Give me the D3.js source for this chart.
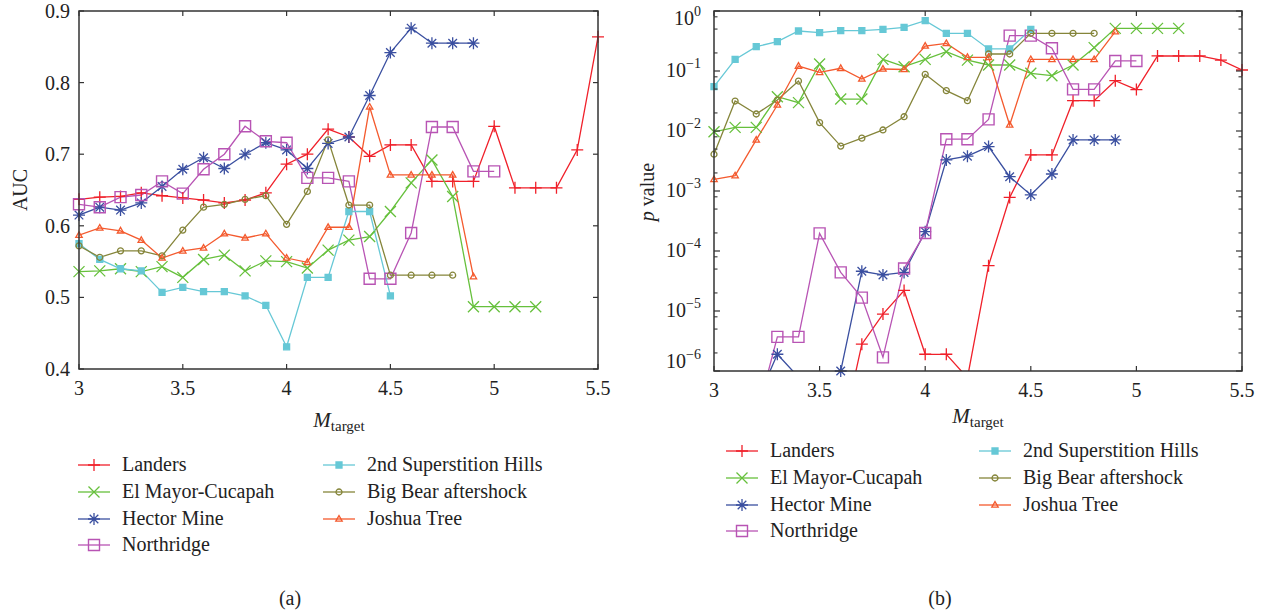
<!DOCTYPE html>
<html>
<head>
<meta charset="utf-8">
<script src="https://cdn.jsdelivr.net/npm/d3@7"></script>
<style>
  html, body { margin: 0; padding: 0; background: #fff; }
  svg { display: block; font-family: "Liberation Serif", "DejaVu Serif", serif; }
</style>
</head>
<body>
<svg id="fig" width="1269" height="614"></svg>
<script>
// Magnitude thresholds (x axis of both panels)
const magnitudes = [3.0, 3.1, 3.2, 3.3, 3.4, 3.5, 3.6, 3.7, 3.8, 3.9, 4.0, 4.1, 4.2,
                    4.3, 4.4, 4.5, 4.6, 4.7, 4.8, 4.9, 5.0, 5.1, 5.2, 5.3, 5.4, 5.5];

// Panel (a): AUC per earthquake, aligned with magnitudes (shorter lists stop earlier)
const landersAUC      = [0.637, 0.640, 0.641, 0.646, 0.642, 0.639, 0.636, 0.632, 0.636, 0.646, 0.686, 0.700, 0.735,
                         0.724, 0.697, 0.713, 0.713, 0.662, 0.662, 0.662, 0.739, 0.653, 0.653, 0.653, 0.706, 0.864];
const elMayorAUC      = [0.536, 0.537, 0.540, 0.536, 0.543, 0.528, 0.553, 0.559, 0.537, 0.551, 0.550, 0.541, 0.566,
                         0.580, 0.585, 0.620, 0.660, 0.692, 0.641, 0.487, 0.487, 0.487, 0.487];
const hectorAUC       = [0.615, 0.626, 0.622, 0.632, 0.655, 0.679, 0.695, 0.680, 0.700, 0.716, 0.706, 0.680, 0.715,
                         0.724, 0.782, 0.842, 0.876, 0.855, 0.855, 0.855];
const northridgeAUC   = [0.630, 0.626, 0.640, 0.643, 0.662, 0.645, 0.679, 0.700, 0.739, 0.718, 0.716, 0.667, 0.667,
                         0.662, 0.526, 0.526, 0.590, 0.738, 0.738, 0.676, 0.676];
const superstitionAUC = [0.575, 0.553, 0.540, 0.537, 0.507, 0.514, 0.508, 0.508, 0.502, 0.489, 0.431, 0.528, 0.528,
                         0.620, 0.620, 0.502];
const bigBearAUC      = [0.572, 0.556, 0.565, 0.565, 0.558, 0.594, 0.626, 0.630, 0.637, 0.642, 0.602, 0.648, 0.720,
                         0.629, 0.629, 0.531, 0.531, 0.531, 0.531];
const joshuaAUC       = [0.587, 0.597, 0.593, 0.580, 0.555, 0.565, 0.569, 0.589, 0.583, 0.589, 0.555, 0.549, 0.598,
                         0.598, 0.766, 0.671, 0.671, 0.671, 0.671, 0.529];

// Panel (b): p values (null = not computed; values under 1e-6 run off the bottom of the axis)
const landersP      = [null, null, null, null, null, null, 7e-8, 2.8e-6, 8.9e-6, 2.2e-5, 1.9e-6, 1.9e-6, 7.7e-7,
                       5.7e-5, 7.8e-4, 4.0e-3, 4.0e-3, 0.032, 0.032, 0.069, 0.049, 0.178, 0.178, 0.178, 0.152, 0.104];
const elMayorP      = [9.7e-3, 0.0115, 0.0115, 0.0373, 0.0297, 0.131, 0.0341, 0.0341, 0.156, 0.118, 0.156, 0.21, 0.152,
                       0.126, 0.126, 0.0915, 0.0836, 0.126, 0.245, 0.514, 0.514, 0.514, 0.514];
const hectorP       = [null, null, 3.0e-7, 1.9e-6, 7.9e-7, 4e-7, 1.0e-6, 4.6e-5, 4.0e-5, 4.4e-5, 2.1e-4, 3.3e-3, 3.8e-3,
                       5.5e-3, 1.73e-3, 8.6e-4, 1.92e-3, 7.1e-3, 7.1e-3, 7.1e-3];
const northridgeP   = [null, null, 1.7e-7, 3.7e-6, 3.7e-6, 1.97e-4, 4.4e-5, 1.67e-5, 1.69e-6, 5.1e-5, 2.0e-4, 7.3e-3, 7.3e-3,
                       0.0156, 0.388, 0.388, 0.239, 0.0494, 0.0494, 0.147, 0.147];
const superstitionP = [0.055, 0.156, 0.255, 0.308, 0.464, 0.435, 0.47, 0.47, 0.494, 0.535, 0.69, 0.425, 0.425,
                       0.233, 0.233, 0.494];
const bigBearP      = [4.1e-3, 0.0316, 0.0192, 0.0329, 0.068, 0.0138, 5.6e-3, 7.6e-3, 0.0104, 0.0173, 0.088, 0.047, 0.032,
                       0.192, 0.192, 0.425, 0.425, 0.425, 0.425];
const joshuaP       = [1.56e-3, 1.8e-3, 7.1e-3, 0.0271, 0.121, 0.095, 0.111, 0.0736, 0.108, 0.106, 0.261, 0.289, 0.169,
                       0.169, 0.0126, 0.156, 0.156, 0.156, 0.156, 0.453];

// Tick labels
const xTicks = [3, 3.5, 4, 4.5, 5, 5.5];
const aucTicks = [0.4, 0.5, 0.6, 0.7, 0.8, 0.9];
const pExponents = [0, -1, -2, -3, -4, -5, -6];

// Series styling
const series = [
  { name: "Landers",                auc: landersAUC,      p: landersP,      color: "#f0202a", marker: "plus" },
  { name: "El Mayor-Cucapah",       auc: elMayorAUC,      p: elMayorP,      color: "#66c03c", marker: "cross" },
  { name: "Hector Mine",            auc: hectorAUC,       p: hectorP,       color: "#3a4fa0", marker: "star" },
  { name: "Northridge",             auc: northridgeAUC,   p: northridgeP,   color: "#b854b4", marker: "square" },
  { name: "2nd Superstition Hills", auc: superstitionAUC, p: superstitionP, color: "#66c8d6", marker: "fsquare" },
  { name: "Big Bear aftershock",    auc: bigBearAUC,      p: bigBearP,      color: "#85853a", marker: "circle" },
  { name: "Joshua Tree",            auc: joshuaAUC,       p: joshuaP,       color: "#f45a2e", marker: "triangle" }
];

const markerPath = {
  plus:     `M-6,0H6M0,-6V6`,
  cross:    `M-5.5,-5.5L5.5,5.5M-5.5,5.5L5.5,-5.5`,
  star:     `M-6,0H6M0,-6V6M-4.3,-4.3L4.3,4.3M-4.3,4.3L4.3,-4.3`,
  square:   `M-5.5,-5.5H5.5V5.5H-5.5Z`,
  fsquare:  `M-3,-3H3V3H-3Z`,
  circle:   d3.symbol(d3.symbolCircle, 28)(),
  triangle: `M0,-3.4L3.2,2.2H-3.2Z`
};
function markerStyle(sel, s) {
  sel.attr("d", markerPath[s.marker])
     .attr("stroke", s.color)
     .attr("stroke-width", s.marker === "square" ? 1.4 : 1.3)
     .attr("fill", s.marker === "fsquare" ? s.color : "none");
}

const svg = d3.select("#fig");
const axisColor = "#333";

function panel(opts) {
  const { x, y, key, id } = opts;
  const [x0, x1] = x.range();
  const [y0, y1] = y.range(); // y0 bottom, y1 top
  const g = svg.append("g");

  g.append("clipPath").attr("id", id).append("rect")
    .attr("x", x0).attr("y", y1).attr("width", x1 - x0).attr("height", y0 - y1);

  // x ticks (bottom, mirrored at top), inward
  xTicks.forEach(t => {
    const px = x(t);
    g.append("line").attr("x1", px).attr("x2", px).attr("y1", y0).attr("y2", y0 - 5)
      .attr("stroke", axisColor).attr("stroke-width", 1.2);
    g.append("line").attr("x1", px).attr("x2", px).attr("y1", y1).attr("y2", y1 + 5)
      .attr("stroke", axisColor).attr("stroke-width", 1.2);
    g.append("text").attr("x", px).attr("y", y0 + 26).attr("text-anchor", "middle")
      .attr("font-size", 20).attr("fill", "#222").text(d3.format("~g")(t));
  });

  // series lines (clipped to the plot box) and markers
  const lines = g.append("g").attr("clip-path", `url(#${id})`);
  series.forEach(s => {
    const pts = s[key].map((v, i) => ({ m: magnitudes[i], v })).filter(d => d.v !== null);
    const line = d3.line().x(d => x(d.m)).y(d => y(d.v));
    lines.append("path").attr("d", line(pts)).attr("fill", "none")
      .attr("stroke", s.color).attr("stroke-width", 1.3);
  });
  series.forEach(s => {
    const [lo] = y.domain();
    const pts = s[key].map((v, i) => ({ m: magnitudes[i], v }))
      .filter(d => d.v !== null && d.v >= lo * 0.99);
    g.append("g").selectAll("path").data(pts).join("path")
      .attr("transform", d => `translate(${x(d.m)},${y(d.v)})`)
      .call(markerStyle, s);
  });

  // frame
  g.append("rect").attr("x", x0).attr("y", y1).attr("width", x1 - x0).attr("height", y0 - y1)
    .attr("fill", "none").attr("stroke", axisColor).attr("stroke-width", 1.5);
  return g;
}

// ---------- Panel (a): AUC ----------
const xA = d3.scaleLinear([3, 5.5], [79, 598]);
const yA = d3.scaleLinear([0.4, 0.9], [369, 11]);
const gA = panel({ x: xA, y: yA, key: "auc", id: "clipA" });
aucTicks.forEach(t => {
  const py = yA(t);
  gA.append("line").attr("x1", 79).attr("x2", 84).attr("y1", py).attr("y2", py)
    .attr("stroke", axisColor).attr("stroke-width", 1.2);
  gA.append("line").attr("x1", 598).attr("x2", 593).attr("y1", py).attr("y2", py)
    .attr("stroke", axisColor).attr("stroke-width", 1.2);
  gA.append("text").attr("x", 70).attr("y", py + 7).attr("text-anchor", "end")
    .attr("font-size", 20).attr("fill", "#222").text(d3.format(".1f")(t));
});
gA.append("text").attr("transform", "translate(27,190) rotate(-90)").attr("text-anchor", "middle")
  .attr("font-size", 20).attr("fill", "#222").text("AUC");
const mA = gA.append("text").attr("x", 339).attr("y", 427).attr("text-anchor", "middle")
  .attr("font-size", 21).attr("fill", "#222");
mA.append("tspan").attr("font-style", "italic").text("M");
mA.append("tspan").attr("font-size", 15).attr("dy", 4).text("target");

// ---------- Panel (b): p value ----------
const xB = d3.scaleLinear([3, 5.5], [714, 1242]);
const yB = d3.scaleLog([1e-6, 1], [371, 11]);
const gB = panel({ x: xB, y: yB, key: "p", id: "clipB" });
pExponents.forEach(e => {
  const py = yB(Math.pow(10, e));
  [[714, 720], [1242, 1236]].forEach(([a, b]) =>
    gB.append("line").attr("x1", a).attr("x2", b).attr("y1", py).attr("y2", py)
      .attr("stroke", axisColor).attr("stroke-width", 1.2));
  if (e < 0) {
    [2, 5, 8].forEach(k => {
      const my = yB(k * Math.pow(10, e));
      [[714, 717.5], [1242, 1238.5]].forEach(([a, b]) =>
        gB.append("line").attr("x1", a).attr("x2", b).attr("y1", my).attr("y2", my)
          .attr("stroke", axisColor).attr("stroke-width", 1.1));
    });
  }
  // end labels are nudged inward so they stay clear of the corners
  const nudge = e === 0 ? 8 : (e === -6 ? -9 : 0);
  const lab = gB.append("text").attr("x", 701).attr("y", py + 6 + nudge)
    .attr("text-anchor", "end").attr("font-size", 20).attr("fill", "#222");
  lab.append("tspan").text("10");
  lab.append("tspan").attr("font-size", 14).attr("dy", -9).text(e === 0 ? "0" : "\u2212" + (-e));
});
const pl = gB.append("text").attr("transform", "translate(654,192) rotate(-90)").attr("text-anchor", "middle")
  .attr("font-size", 20).attr("fill", "#222");
pl.append("tspan").attr("font-style", "italic").text("p");
pl.append("tspan").text(" value");
const mB = gB.append("text").attr("x", 978).attr("y", 423).attr("text-anchor", "middle")
  .attr("font-size", 21).attr("fill", "#222");
mB.append("tspan").attr("font-style", "italic").text("M");
mB.append("tspan").attr("font-size", 15).attr("dy", 4).text("target");

// ---------- Legends ----------
function legend(col1x, col2x, rows1, rows2) {
  const g = svg.append("g");
  series.forEach((s, i) => {
    const left = i < 4;
    const lx = left ? col1x : col2x;
    const ly = left ? rows1[i] : rows2[i - 4];
    g.append("line").attr("x1", lx).attr("x2", lx + 32).attr("y1", ly).attr("y2", ly)
      .attr("stroke", s.color).attr("stroke-width", 1.3);
    g.append("path").attr("transform", `translate(${lx + 16},${ly})`).call(markerStyle, s);
    g.append("text").attr("x", lx + 44).attr("y", ly + 6).attr("font-size", 20)
      .attr("fill", "#222").text(s.name);
  });
}
legend(78, 323, [465, 492, 519, 545], [465, 492, 519]);
legend(726, 979, [451, 478, 505, 531], [451, 478, 505]);

svg.append("text").attr("x", 290).attr("y", 605).attr("text-anchor", "middle")
  .attr("font-size", 20).attr("fill", "#222").text("(a)");
svg.append("text").attr("x", 940).attr("y", 605).attr("text-anchor", "middle")
  .attr("font-size", 20).attr("fill", "#222").text("(b)");
</script>
</body>
</html>
